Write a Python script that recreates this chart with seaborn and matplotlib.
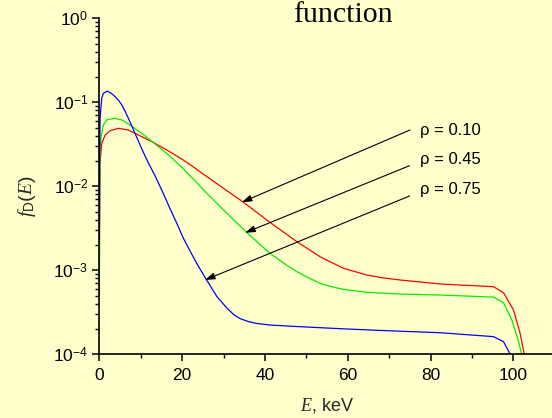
import matplotlib
matplotlib.use("Agg")
import matplotlib.pyplot as plt
import matplotlib.ticker as mticker
import numpy as np
import pandas as pd
import seaborn as sns

# ---- data ----
E_010 = [0, 0.05, 0.17, 0.58, 1.38, 2.6, 4.6, 7.0, 8.6, 10.2, 13.0, 16.7, 19.9, 22.7, 25.1, 29.0, 34.6,
         41.2, 47.7, 53.3, 58.9, 64.6, 68.5, 72.6, 82.3, 95.2, 97.6, 100.0, 101.6, 102.6]
f_010 = [5.13e-4, 3.16e-3, 0.0195, 0.0324, 0.0407, 0.0459, 0.049, 0.0468, 0.0428, 0.0391, 0.0334, 0.0263,
         0.0211, 0.0170, 0.01396, 0.01023, 0.00656, 0.00372, 0.00219, 0.00145, 0.001057, 8.79e-4, 8.13e-4,
         7.67e-4, 6.87e-4, 6.38e-4, 5.41e-4, 3.37e-4, 1.78e-4, 1.0e-4]

E_045 = [0, 0.05, 0.15, 0.41, 0.97, 1.8, 3.6, 5.4, 7.4, 10.2, 13.0, 16.7, 19.9, 22.7, 25.5, 28.5, 31.6,
         35.6, 38.5, 41.2, 44.5, 47.7, 50.5, 53.3, 56.0, 58.9, 64.6, 72.6, 82.3, 95.2, 97.6, 99.6, 101.0, 102.0]
f_045 = [7.94e-4, 5.01e-3, 0.0251, 0.0389, 0.0537, 0.0617, 0.0646, 0.0617, 0.0537, 0.0428, 0.0334, 0.0236,
         0.0168, 0.01216, 0.00871, 0.00617, 0.00437, 0.00282, 0.00209, 0.00159, 0.001216, 9.62e-4, 8.13e-4,
         7.0e-4, 6.38e-4, 5.94e-4, 5.47e-4, 5.22e-4, 5.08e-4, 4.79e-4, 4.11e-4, 2.56e-4, 1.55e-4, 1.0e-4]

E_075 = [0, 0.05, 0.17, 0.58, 0.97, 1.93, 2.8, 3.8, 4.6, 5.4, 6.2, 7.0, 8.6, 10.2, 11.8, 13.5, 15.3, 17.1,
         18.7, 20.3, 21.9, 23.5, 25.9, 28.4, 30.8, 32.5, 34.0, 36.0, 38.0, 41.2, 47.7, 59.8, 70.0, 82.3,
         95.2, 97.6, 99.2]
f_075 = [2.34e-3, 0.0158, 0.0646, 0.1117, 0.128, 0.136, 0.1288, 0.1167, 0.1059, 0.0933, 0.0785, 0.0646,
         0.0428, 0.0282, 0.0191, 0.0132, 0.00851, 0.00537, 0.00363, 0.0024, 0.0017, 0.00121, 7.67e-4,
         4.85e-4, 3.55e-4, 2.95e-4, 2.66e-4, 2.45e-4, 2.33e-4, 2.23e-4, 2.14e-4, 2.0e-4, 1.905e-4,
         1.807e-4, 1.622e-4, 1.413e-4, 1.0e-4]

series_labels = ["ρ = 0.10", "ρ = 0.45", "ρ = 0.75"]
series_colors = ["#FF0000", "#00EE00", "#0000FF"]

# annotation arrows
label_x = [77.5, 77.5, 77.5]
label_y = [0.0459, 0.0206, 0.00904]
arrow_start_x = [75.0, 74.9, 74.9]
arrow_start_y = [0.0468, 0.0176, 0.00767]
arrow_end_x = [34.4, 35.2, 25.5]
arrow_end_y = [0.00646, 0.0028, 7.67e-4]

x_ticks = [0, 20, 40, 60, 80, 100]
title_text = "function"

# ---- build long-form table ----
frames = []
for lab, E, f in zip(series_labels, [E_010, E_045, E_075], [f_010, f_045, f_075]):
    frames.append(pd.DataFrame({"E": E, "f": f, "series": lab}))
df = pd.concat(frames, ignore_index=True)

# ---- style ----
bg = "#FFFFCC"
sns.set_style("ticks")
plt.rcParams["font.family"] = ["Liberation Sans", "DejaVu Sans"]
plt.rcParams["mathtext.fontset"] = "custom"
plt.rcParams["mathtext.rm"] = "Liberation Sans"
plt.rcParams["mathtext.sf"] = "Liberation Sans"
plt.rcParams["mathtext.it"] = "Liberation Serif:italic"

fig = plt.figure(figsize=(5.52, 4.18), dpi=100, facecolor=bg)
ax = fig.add_axes([0.18, 0.1524, 0.82, 0.8038])
ax.set_facecolor(bg)

sns.lineplot(data=df, x="E", y="f", hue="series", palette=series_colors,
             estimator=None, sort=False, lw=0.9, legend=False, ax=ax)

ax.set_yscale("log")
ax.set_ylim(1e-4, 1)
ax.set_xlim(0, 109.3)

ax.spines["top"].set_visible(False)
ax.spines["right"].set_visible(False)
for s in ("left", "bottom"):
    ax.spines[s].set_linewidth(1.2)
    ax.spines[s].set_color("black")

ax.set_xticks(x_ticks)
ax.xaxis.set_minor_locator(mticker.MultipleLocator(10))
ax.yaxis.set_major_locator(mticker.LogLocator(base=10, numticks=10))
ax.yaxis.set_minor_locator(mticker.LogLocator(base=10, subs=np.arange(2, 10), numticks=20))
ax.yaxis.set_minor_formatter(mticker.NullFormatter())
ax.yaxis.set_major_formatter(mticker.FuncFormatter(lambda v, p: r"$10^{%d}$" % int(round(np.log10(v)))))

ax.tick_params(axis="both", which="major", direction="out", length=5, width=1.1,
               labelsize=12.5, color="black", labelcolor="black")
ax.tick_params(axis="both", which="minor", direction="out", length=3, width=1.0, color="black")
ax.tick_params(axis="x", which="major", pad=5)
ax.tick_params(axis="y", which="major", pad=3)

ax.set_xlabel(r"$\mathit{E}$, keV", fontsize=13, va="center")
ax.xaxis.set_label_coords(0.502, -0.151)
ax.set_ylabel(r"$\mathit{f}_{\mathrm{D}}\mathit{(E)}$", fontsize=14, va="center")
ax.yaxis.set_label_coords(-0.160, 0.47)

for i in range(3):
    ax.annotate("", xy=(arrow_end_x[i], arrow_end_y[i]), xytext=(arrow_start_x[i], arrow_start_y[i]),
                arrowprops=dict(arrowstyle="-|>,head_length=0.6,head_width=0.2", color="black",
                                lw=0.8, shrinkA=0, shrinkB=0, mutation_scale=10))
    ax.text(label_x[i], label_y[i], series_labels[i], fontsize=12, va="center", ha="left", color="black")

fig.text(0.6207, 0.948, title_text, fontsize=21.5, family="Liberation Serif",
         ha="center", va="baseline", color="black")

fig.savefig("out.png", dpi=100, facecolor=bg)
